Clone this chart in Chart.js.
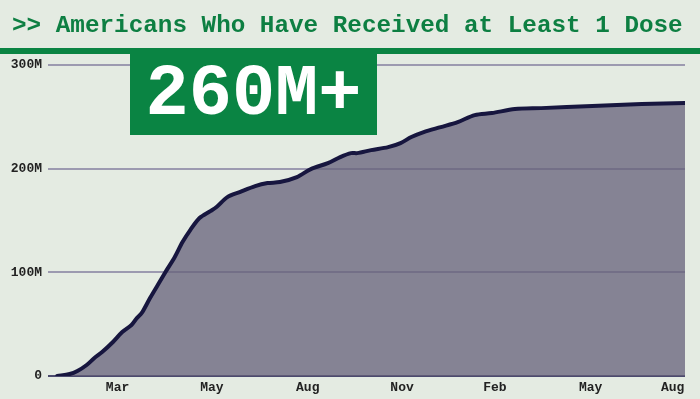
<!DOCTYPE html>
<html>
<head>
<meta charset="utf-8">
<script src="https://cdn.jsdelivr.net/npm/chart.js@4.4.1/dist/chart.umd.min.js"></script>
<style>
  html, body { margin: 0; padding: 0; background: #e4ebe2; }
  #wrap { position: relative; width: 700px; height: 399px; overflow: hidden; background: #e4ebe2; }
  #c { position: absolute; left: 0; top: 0; }
  #title { position: absolute; left: 12px; top: 12px; font: bold 24.3px 'Liberation Mono', 'Courier New', monospace; color: #0d7f42; white-space: nowrap; }
  #band { position: absolute; left: 0; top: 48px; width: 700px; height: 6px; background: #0a8443; }
  #box { position: absolute; left: 130px; top: 53px; width: 247px; height: 82px; background: #0a8443; color: #ffffff; font: bold 72px 'Liberation Mono', 'Courier New', monospace; text-align: center; line-height: 84px; }
</style>
</head>
<body>
<div id="wrap">
  <canvas id="c" width="700" height="399"></canvas>
  <div id="title">&gt;&gt; Americans Who Have Received at Least 1 Dose</div>
  <div id="band"></div>
  <div id="box">260M+</div>
</div>
<script>
// x positions (days) and cumulative people with >= 1 dose (millions)
const dayIndex = [20,28,33,39,44,49,56,62,68,71,75,80,85,90,96,101,106,112,119,123,130,138,148,156,164,175,184,195,203,210,214,223,234,242,249,257,268,279,290,301,316,333,366,398,426];
const peopleM = [0,1.9,4.8,10.6,17.4,23.1,32.8,42.4,49.2,55.0,61.7,75.2,87.8,100.3,114.8,129.2,140.8,152.4,159.1,163.0,172.6,177.4,183.2,186.1,187.1,191.9,199.6,205.4,211.2,215.0,215.0,217.9,220.8,224.7,230.5,235.3,240.1,244.9,251.7,253.6,257.5,258.4,260.4,262.3,263.3];
const xTickPos = [59,120,182,243,303,365,418];
const xTickLabels = ['Mar','May','Aug','Nov','Feb','May','Aug'];
const yTicks = [0,100,200,300];

const pts = dayIndex.map((d,i)=>({x:d, y:peopleM[i]}));
const font = {family: "'Liberation Mono', 'Courier New', monospace", size: 13, weight: 'bold'};

new Chart(document.getElementById('c'), {
  type: 'line',
  data: { datasets: [{
    data: pts,
    borderColor: '#17163f',
    borderWidth: 4,
    backgroundColor: 'rgba(101,96,122,0.75)',
    fill: 'origin',
    pointRadius: 0,
    tension: 0.3,
    borderCapStyle: 'round',
    borderJoinStyle: 'round'
  }]},
  options: {
    responsive: false,
    animation: false,
    devicePixelRatio: 1,
    layout: { padding: { top: 65, right: 15, bottom: 0, left: 0 } },
    plugins: { legend: { display: false }, tooltip: { enabled: false }, title: { display: false } },
    scales: {
      x: {
        type: 'linear', min: 14, max: 426,
        afterBuildTicks: s => { s.ticks = xTickPos.map(v => ({value: v})); },
        afterFit: s => { s.height = 23; },
        grid: { display: false, drawTicks: false },
        border: { display: false },
        ticks: {
          autoSkip: false, maxRotation: 0, padding: 4, color: '#222222', font: font,
          callback: (v) => { const i = xTickPos.indexOf(v); return i >= 0 ? xTickLabels[i] : ''; }
        }
      },
      y: {
        min: 0, max: 300,
        afterBuildTicks: s => { s.ticks = yTicks.map(v => ({value: v})); },
        afterFit: s => { s.width = 48; },
        grid: {
          drawTicks: false, lineWidth: 2,
          color: c => c.tick && c.tick.value === 0 ? '#4b4a6e' : '#9c9ab0'
        },
        border: { display: false },
        ticks: {
          padding: 6, color: '#222222', font: font,
          callback: v => v === 0 ? '0' : v + 'M'
        }
      }
    }
  }
});
</script>
</body>
</html>
